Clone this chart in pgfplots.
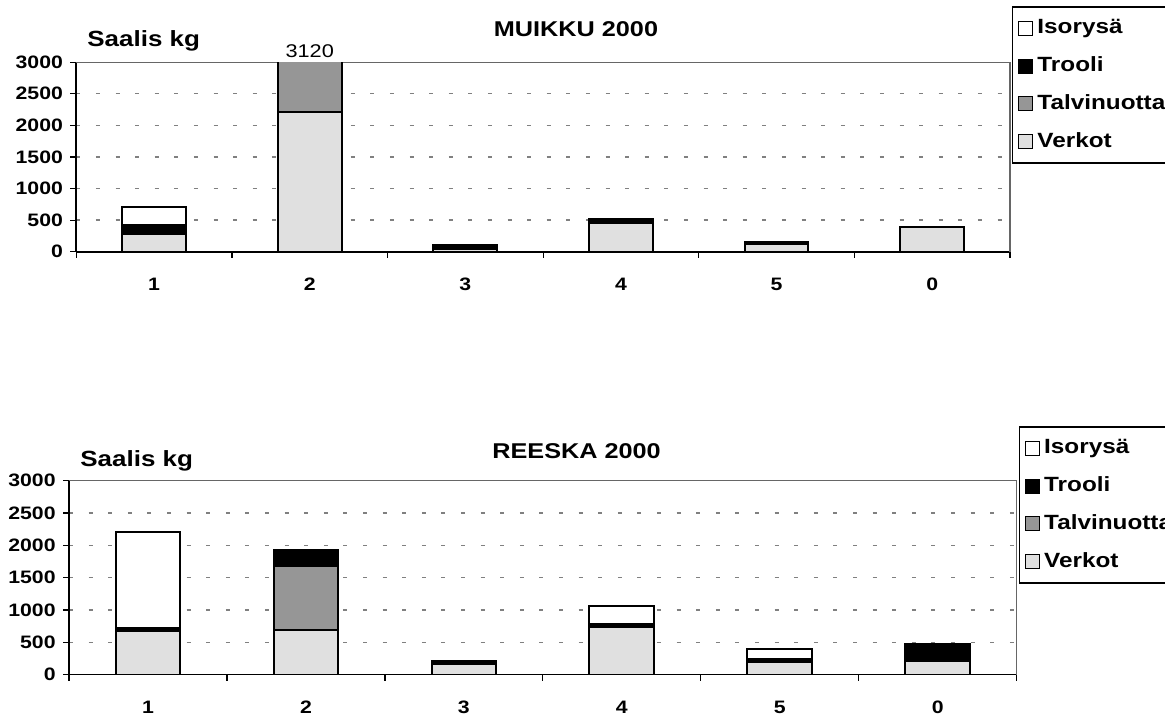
\documentclass[border=0pt]{standalone}
\usepackage{fontspec}
\setmainfont{Liberation Sans}[FakeStretch=1.18]
\usepackage{pgfplots}
\pgfplotsset{compat=1.18}

\definecolor{verkot}{HTML}{E0E0E0}
\definecolor{talvi}{HTML}{969696}

% muikku: category, Verkot, Talvinuotta, Trooli, Isorysa
\pgfplotstableread{
x verkot talvi trooli iso
1 280 0 140 280
2 2210 910 0 0
3 40 0 60 0
4 460 0 45 10
5 115 0 45 0
6 385 0 0 0
}\muikku

\pgfplotstableread{
x verkot talvi trooli iso
1 670 0 50 1480
2 695 990 235 0
3 170 0 45 0
4 730 0 50 275
5 200 0 47 155
6 205 0 270 0
}\reeska

\pgfplotsset{
  kala/.style={
    scale only axis,
    clip mode=individual,
    ybar stacked,
    bar width=0.41,
    xmin=0.5, xmax=6.5,
    ymin=0, ymax=3000,
    xtick={1,...,6},
    xticklabels={1,2,3,4,5,0},
    minor xtick={0.5,1.5,...,6.5},
    ytick={0,500,...,3000},
    axis x line*=bottom,
    axis y line*=left,
    axis line style={black, line width=0.8pt},
    tick align=outside,
    major tick length=3pt,
    minor tick length=3pt,
    major x tick style={draw=none},
    every tick/.style={black, line width=0.6pt},
    ymajorgrids,
    major grid style={gray, line width=0.7pt, dash pattern=on 2pt off 7.8pt},
    /pgf/number format/assume math mode=true,
    /pgf/number format/set thousands separator={},
    yticklabel style={font=\fontsize{9pt}{10pt}\selectfont\bfseries, inner sep=1pt, xshift=-2.5pt},
    xticklabel style={font=\fontsize{9pt}{10pt}\selectfont\bfseries, inner sep=0pt, yshift=-10pt},
    scaled y ticks=false,
    reverse legend,
    legend cell align=left,
    legend style={draw=black, line width=0.6pt, anchor=north west,
      font=\fontsize{10.3pt}{11pt}\selectfont\bfseries,
      inner xsep=3pt, inner ysep=1.2pt, row sep=0pt,
      nodes={text height=7.5pt, text depth=2pt, minimum height=18.9pt},
      /tikz/every even column/.append style={column sep=3.5pt}},
    legend image code/.code={\draw[##1, line width=0.5pt, draw=black] (0pt,-3.5pt) rectangle (7pt,3.5pt);},
  },
  barv/.style={fill=verkot, draw=black, line width=1pt},
  bart/.style={fill=talvi, draw=black, line width=1pt},
  bartr/.style={fill=black, draw=black, line width=1pt},
  bari/.style={fill=white, draw=black, line width=1pt},
}

\begin{document}
\begin{tikzpicture}
\useasboundingbox (0,0) rectangle (582.5pt,-359pt);
\clip (0,0) rectangle (582.5pt,-359pt);

\begin{axis}[kala,
  at={(38.15pt,-125.85pt)}, anchor=south west,
  width=466.85pt, height=94.75pt,
  legend style={at={(1.002,1.295)}}]
\addplot[barv] table[x=x, y=verkot] {\muikku};
\addplot[bart] table[x=x, y=talvi] {\muikku};
\addplot[bartr] table[x=x, y=trooli] {\muikku};
\addplot[bari] table[x=x, y=iso] {\muikku};
\legend{Verkot, Talvinuotta, Trooli, Isorysä}
\draw[gray!80!black, line width=0.6pt] (rel axis cs:0,1) -- (rel axis cs:1,1) -- (rel axis cs:1,0);
\node[anchor=base, font=\fontsize{9.2pt}{10pt}\selectfont, inner sep=0pt] at (axis cs:2,3000) [yshift=2.2pt] {3120};
\end{axis}

\begin{axis}[kala,
  at={(34.5pt,-337.25pt)}, anchor=south west,
  width=473.85pt, height=96.9pt,
  legend style={at={(1.002,1.28)}}]
\addplot[barv] table[x=x, y=verkot] {\reeska};
\addplot[bart] table[x=x, y=talvi] {\reeska};
\addplot[bartr] table[x=x, y=trooli] {\reeska};
\addplot[bari] table[x=x, y=iso] {\reeska};
\legend{Verkot, Talvinuotta, Trooli, Isorysä}
\draw[gray!80!black, line width=0.6pt] (rel axis cs:0,1) -- (rel axis cs:1,1) -- (rel axis cs:1,0);
\end{axis}

\node[anchor=base, font=\fontsize{10.7pt}{12pt}\selectfont\bfseries, inner sep=0pt] at (288pt,-18.35pt) {MUIKKU 2000};
\node[anchor=base west, font=\fontsize{11pt}{12pt}\selectfont\bfseries, inner sep=0pt] at (43.5pt,-23.35pt) {Saalis kg};
\node[anchor=base, font=\fontsize{10.7pt}{12pt}\selectfont\bfseries, inner sep=0pt] at (288.3pt,-229.15pt) {REESKA 2000};
\node[anchor=base west, font=\fontsize{11pt}{12pt}\selectfont\bfseries, inner sep=0pt] at (40pt,-233.35pt) {Saalis kg};
\end{tikzpicture}
\end{document}
